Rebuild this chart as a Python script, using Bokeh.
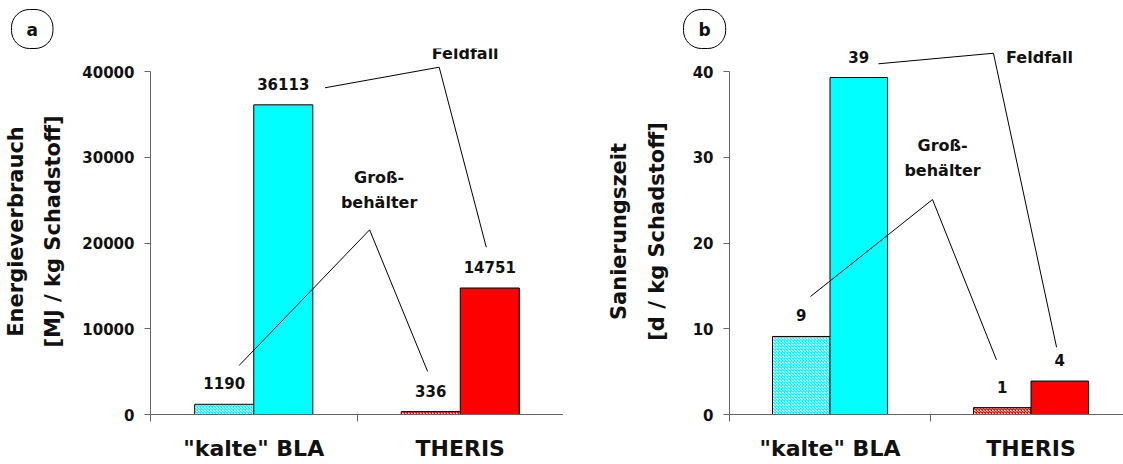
from bokeh.plotting import figure
from bokeh.layouts import row
from bokeh.models import ColumnDataSource, Range1d, FixedTicker, LabelSet, Label, Arrow
from bokeh.core.properties import value
from bokeh.embed import file_html
from bokeh.resources import INLINE

# ---------------- data ----------------
categories = ['"kalte" BLA', 'THERIS']

energy_gross = [1190, 336]          # Großbehälter
energy_field = [36113, 14751]       # Feldfall
energy_gross_labels = ["1190", "336"]
energy_field_labels = ["36113", "14751"]
energy_ticks = [0, 10000, 20000, 30000, 40000]

time_gross = [9.1, 0.8]
time_field = [39.3, 3.9]
time_gross_labels = ["9", "1"]
time_field_labels = ["39", "4"]
time_ticks = [0, 10, 20, 30, 40]

# ---------------- style ----------------
FONT = "DejaVu Sans"
AXIS = "#666666"
TXT = "#111111"
BAR_W = 0.286
OFF = 0.143
TOP_BORDER = 48
HEIGHT = 464
BOTTOM_BORDER = 50
# frame spans page y 48..414; the top tick sits at page y 71
FRAME_SCALE = (414 - 48) / (414 - 71)


def make_panel(letter, letter_offset, width, mbl, mbr, x_end, y_max,
               ticks, ylabel, ylabel_standoff, gross, field, gross_lbl,
               field_lbl, colors, feld_text_xy, feld_line, gross_text_xy, gross_line,
               minor_x):
    p = figure(width=width, height=HEIGHT, output_backend="svg", toolbar_location=None,
               x_range=Range1d(0, x_end), y_range=Range1d(0, y_max * FRAME_SCALE),
               min_border_left=mbl, min_border_right=mbr, min_border_top=TOP_BORDER,
               min_border_bottom=BOTTOM_BORDER)
    p.outline_line_color = None
    p.xgrid.visible = False
    p.ygrid.visible = False
    p.background_fill_color = "white"
    p.border_fill_color = "white"

    # panel letter in an oval
    p.title.text = letter
    p.title.align = "left"
    p.title.offset = letter_offset
    p.title.standoff = 0
    p.title.text_font = FONT
    p.title.text_font_style = "bold"
    p.title.text_font_size = "17px"
    p.title.text_color = TXT
    p.title.border_line_color = "black"
    p.title.border_line_width = 1
    p.title.background_fill_color = "white"
    p.title.padding = dict(left=15, right=15, top=10, bottom=9)
    p.title.border_radius = 18

    centers = [i + 0.5 for i in range(len(categories))]
    src_g = ColumnDataSource(dict(x=[c - OFF for c in centers], top=gross,
                                  lbl=gross_lbl, color=colors))
    src_f = ColumnDataSource(dict(x=[c + OFF for c in centers], top=field,
                                  lbl=field_lbl, color=colors))

    p.vbar(x="x", top="top", width=BAR_W, bottom=0, source=src_g,
           fill_color="white", hatch_pattern="diagonal_cross",
           hatch_color="color", hatch_scale=3, hatch_weight=1.3,
           line_color="black", line_width=1)
    p.vbar(x="x", top="top", width=BAR_W, bottom=0, source=src_f,
           fill_color="color", line_color="black", line_width=1)

    for s in (src_g, src_f):
        p.add_layout(LabelSet(x="x", y="top", text="lbl", source=s, y_offset=15,
                              text_align="center", text_baseline="bottom",
                              text_font=value(FONT), text_font_style="bold",
                              text_font_size="15px", text_color=TXT))

    # y axis (drawn only from 0 to the top tick)
    ya = p.yaxis[0]
    ya.ticker = FixedTicker(ticks=ticks)
    ya.bounds = (0, y_max)
    ya.axis_line_color = AXIS
    ya.major_tick_line_color = AXIS
    ya.major_tick_out = 6
    ya.major_tick_in = 0
    ya.minor_tick_line_color = None
    ya.major_label_standoff = 10
    ya.major_label_text_font = FONT
    ya.major_label_text_font_style = "bold"
    ya.major_label_text_font_size = "15px"
    ya.major_label_text_color = TXT
    ya.axis_label = ylabel
    ya.axis_label_text_font = FONT
    ya.axis_label_text_font_style = "bold"
    ya.axis_label_text_font_size = "21px"
    ya.axis_label_text_color = TXT
    ya.axis_label_text_line_height = 1.55
    ya.axis_label_standoff = ylabel_standoff

    # x axis: category names centred, ticks at category boundaries
    xa = p.xaxis[0]
    xa.axis_label = None
    xa.ticker = FixedTicker(ticks=centers, minor_ticks=minor_x)
    xa.major_label_overrides = {c: n for c, n in zip(centers, categories)}
    xa.axis_line_color = AXIS
    xa.major_tick_line_color = None
    xa.major_tick_out = 7
    xa.major_tick_in = 0
    xa.minor_tick_line_color = AXIS
    xa.minor_tick_out = 7
    xa.minor_tick_in = 0
    xa.major_label_standoff = 14
    xa.major_label_text_font = FONT
    xa.major_label_text_font_style = "bold"
    xa.major_label_text_font_size = "22px"
    xa.major_label_text_color = TXT

    # annotations
    p.add_layout(Label(x=feld_text_xy[0], y=feld_text_xy[1], text="Feldfall",
                       text_align="center", text_baseline="middle",
                       text_font=FONT, text_font_style="bold", text_font_size="16px",
                       text_color=TXT))
    p.add_layout(Label(x=gross_text_xy[0], y=gross_text_xy[1], text="Groß-",
                       text_align="center", text_baseline="middle",
                       text_font=FONT, text_font_style="bold", text_font_size="16px",
                       text_color=TXT))
    p.add_layout(Label(x=gross_text_xy[0], y=gross_text_xy[2], text="behälter",
                       text_align="center", text_baseline="middle",
                       text_font=FONT, text_font_style="bold", text_font_size="16px",
                       text_color=TXT))
    for pts in (feld_line, gross_line):
        for (x0, y0), (x1, y1) in zip(pts[:-1], pts[1:]):
            p.add_layout(Arrow(x_start=x0, y_start=y0, x_end=x1, y_end=y1,
                               start=None, end=None, line_color="black", line_width=1))
    return p


pa = make_panel(
    "a", -139, 563, 150, 0, 2.0, 40000, energy_ticks,
    "Energieverbrauch\n[MJ / kg Schadstoff]", 14,
    energy_gross, energy_field, energy_gross_labels, energy_field_labels,
    ["#00FFFF", "#FF0000"],
    (1.524, 42100), [(0.845, 38100), (1.398, 40500), (1.626, 19510)],
    (1.107, 27670, 24754), [(0.429, 5713), (1.061, 21536), (1.342, 5014)],
    [0, 1, 2])

pb = make_panel(
    "b", -46, 560, 166, 0, 1.96, 40, time_ticks,
    "Sanierungszeit\n[d / kg Schadstoff]", 21,
    time_gross, time_field, time_gross_labels, time_field_labels,
    ["#00FFFF", "#FF0000"],
    (1.542, 41.67), [(0.741, 40.9), (1.313, 42.13), (1.627, 7.85)],
    (1.06, 31.37, 28.45), [(0.403, 13.76), (1.01, 25.07), (1.328, 6.38)],
    [0, 1])

layout = row(pa, pb, spacing=0)
open("out.html", "w").write(file_html(layout, INLINE))
